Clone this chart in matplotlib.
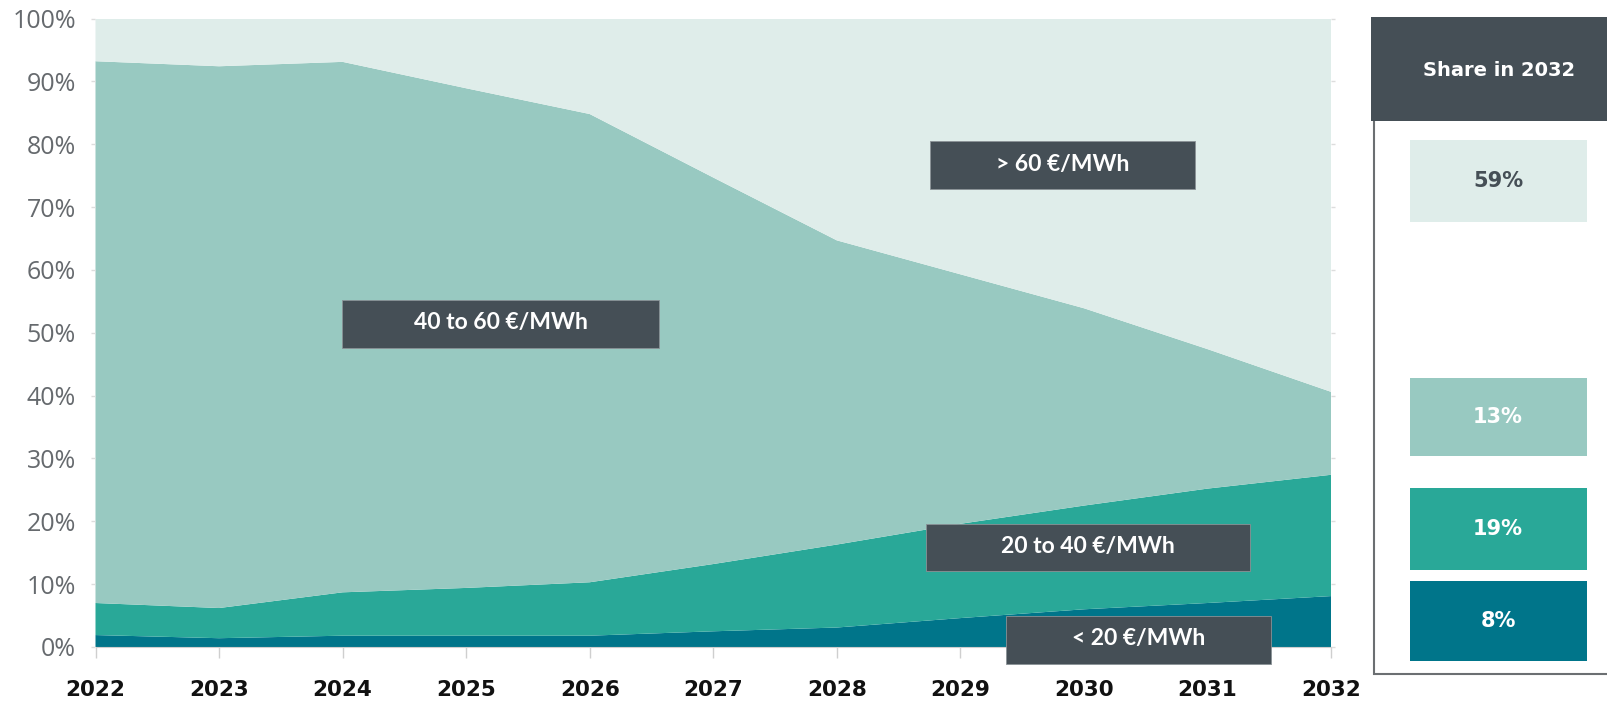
import matplotlib
matplotlib.use("Agg")
import matplotlib.pyplot as plt
from matplotlib.patches import Rectangle
import numpy as np

# --- DATA: share of hours by price band (%) ---
years = [2022, 2023, 2024, 2025, 2026, 2027, 2028, 2029, 2030, 2031, 2032]
band_lt20 = [1.9, 1.4, 1.8, 1.8, 1.8, 2.5, 3.1, 4.6, 6.0, 7.0, 8.1]
band_20_40 = [5.1, 4.8, 6.9, 7.6, 8.5, 10.7, 13.2, 15.0, 16.5, 18.2, 19.3]
band_40_60 = [86.2, 86.2, 84.4, 79.5, 74.5, 61.5, 48.4, 39.7, 31.4, 22.2, 13.2]
band_gt60 = [6.8, 7.6, 6.9, 11.1, 15.2, 25.3, 35.3, 40.7, 46.1, 52.6, 59.4]

band_names = ["< 20 €/MWh", "20 to 40 €/MWh", "40 to 60 €/MWh", "> 60 €/MWh"]
band_colors = ["#00758A", "#29A898", "#98C9C1", "#DFEDEA"]
y_ticks = list(range(0, 101, 10))

DARK = "#454F56"
W, H = 1608, 702

fig = plt.figure(figsize=(W / 100, H / 100), dpi=100)
ax = fig.add_axes([95.5 / W, 1 - 647 / H, (1331 - 95.5) / W, (647 - 18.5) / H])

ax.stackplot(years, band_lt20, band_20_40, band_40_60, band_gt60,
             colors=band_colors, linewidth=0)

ax.set_xlim(years[0], years[-1])
ax.set_ylim(0, 100)
ax.set_xticks(years)
ax.set_xticklabels([str(y) for y in years], fontfamily="DejaVu Sans",
                   fontweight="bold", fontsize=15.5, color="#111111")
ax.set_yticks(y_ticks)
ax.set_yticklabels([f"{t}%" for t in y_ticks], fontfamily="Open Sans",
                   fontsize=18, color="#666A6E")
ax.tick_params(axis="x", length=8, width=1, color="#cfcfcf", pad=16)
ax.tick_params(axis="y", left=True, right=True, length=3, width=1,
               color="#dddddd", pad=11)
for side in ["top", "left", "right"]:
    ax.spines[side].set_visible(False)
ax.spines["bottom"].set_color("#cfcfcf")


def px_rect(x0, y0, x1, y1, **kw):
    # rectangle given in pixel coordinates measured from the top-left corner
    r = Rectangle((x0 / W, 1 - y1 / H), (x1 - x0) / W, (y1 - y0) / H,
                  transform=fig.transFigure, clip_on=False, **kw)
    fig.add_artist(r)
    return r


def px_text(x, y, s, **kw):
    fig.text(x / W, 1 - y / H, s, ha="center", va="center", **kw)


# --- band labels on the chart ---
label_boxes = [
    (1006, 616, 1271, 664),   # < 20
    (926, 524, 1250, 571),    # 20 to 40
    (342, 300, 659, 348),     # 40 to 60
    (930, 141, 1195, 189),    # > 60
]
for name, (x0, y0, x1, y1) in zip(band_names, label_boxes):
    px_rect(x0, y0, x1, y1, facecolor=DARK, edgecolor="#8a9296", linewidth=0.6, zorder=5)
    px_text((x0 + x1) / 2, (y0 + y1) / 2 - 1, name, fontfamily="Lato",
            fontweight="bold", fontsize=16.5, color="white", zorder=6)

# --- side panel: share in the last year ---
panel = Rectangle((1374 / W, 1 - 674 / H), (W + 10 - 1374) / W, (674 - 100) / H,
                  transform=fig.transFigure, clip_on=False, facecolor="white",
                  edgecolor="#6b6f72", linewidth=1.5, zorder=2)
fig.add_artist(panel)
px_rect(1371, 17, W + 5, 121, facecolor=DARK, edgecolor="none", zorder=3)
px_text(1499, 70, f"Share in {years[-1]}", fontfamily="DejaVu Sans",
        fontweight="bold", fontsize=14, color="white", zorder=4)

last_shares = [band_gt60[-1], band_40_60[-1], band_20_40[-1], band_lt20[-1]]
share_colors = [band_colors[3], band_colors[2], band_colors[1], band_colors[0]]
share_text = [DARK, "white", "white", "white"]
share_boxes = [(140, 222), (378, 456), (488, 570), (581, 661)]
for val, fc, tc, (y0, y1) in zip(last_shares, share_colors, share_text, share_boxes):
    px_rect(1410, y0, 1587, y1, facecolor=fc, edgecolor="none", zorder=3)
    px_text(1498, (y0 + y1) / 2, f"{round(val)}%", fontfamily="DejaVu Sans",
            fontweight="bold", fontsize=15, color=tc, zorder=4)

fig.savefig("out.png", dpi=100)
